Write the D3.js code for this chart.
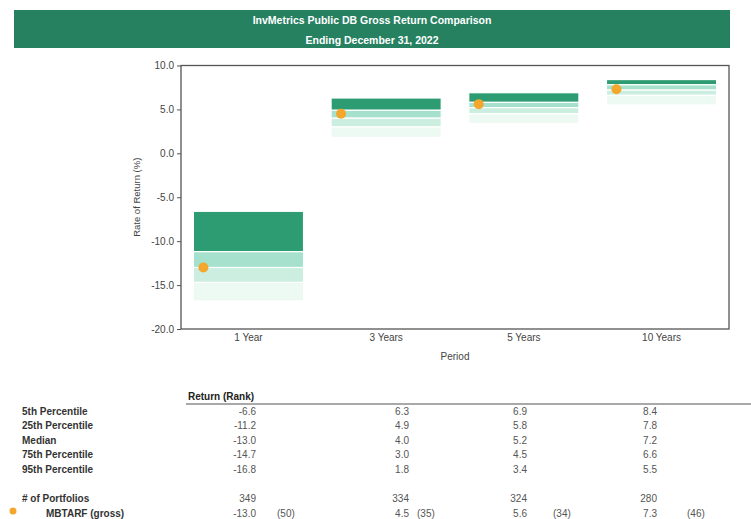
<!DOCTYPE html>
<html>
<head>
<meta charset="utf-8">
<script src="https://cdn.jsdelivr.net/npm/d3@7"></script>
<style>
  body { margin: 0; background: #fff; }
  svg { font-family: "Liberation Sans", Arial, sans-serif; }
</style>
</head>
<body>
<svg id="chart" width="751" height="519"></svg>
<script>
// DATA
var periods = ["1 Year", "3 Years", "5 Years", "10 Years"];
var pctLabels = ["5th Percentile", "25th Percentile", "Median", "75th Percentile", "95th Percentile"];
var p5  = [-6.6, 6.3, 6.9, 8.4];
var p25 = [-11.2, 4.9, 5.8, 7.8];
var p50 = [-13.0, 4.0, 5.2, 7.2];
var p75 = [-14.7, 3.0, 4.5, 6.6];
var p95 = [-16.8, 1.8, 3.4, 5.5];
var nPortfolios = [349, 334, 324, 280];
var fundName = "MBTARF (gross)";
var fundReturn = [-13.0, 4.5, 5.6, 7.3];
var fundRank = [50, 35, 34, 46];
var yTicks = [10, 5, 0, -5, -10, -15, -20];

// style
var bandColors = ["#2e9c73", "#a5e1cc", "#cbeee1", "#edf9f3"];
var dotColor = "#f3a72c";
var headerColor = "#268161";

function fmt1(d) { return d.toFixed(1); }   // keep plain hyphen minus like the original

var svg = d3.select("#chart");

// header bar
svg.append("rect")
  .attr("x", 14).attr("y", 10).attr("width", 716).attr("height", 38)
  .attr("fill", headerColor);
svg.append("text").attr("x", 372).attr("y", 23.5)
  .attr("text-anchor", "middle").attr("fill", "#fff")
  .style("font-weight", "bold").style("font-size", "10.5px")
  .text("InvMetrics Public DB Gross Return Comparison");
svg.append("text").attr("x", 372).attr("y", 43.5)
  .attr("text-anchor", "middle").attr("fill", "#fff")
  .style("font-weight", "bold").style("font-size", "10.5px")
  .text("Ending December 31, 2022");

// plot area
var pLeft = 181, pRight = 729, pTop = 65.5, pBottom = 329;

var x = d3.scaleBand().domain(periods).range([pLeft, pRight])
  .paddingInner(0.2).paddingOuter(0.09);
var y = d3.scaleLinear().domain([-20, 10]).range([pBottom, pTop]);

var g = svg.append("g");

// floating bars
periods.forEach(function(p, i) {
  var vals = [p5[i], p25[i], p50[i], p75[i], p95[i]];
  for (var j = 0; j < 4; j++) {
    g.append("rect")
      .attr("x", x(p))
      .attr("y", y(vals[j]))
      .attr("width", x.bandwidth())
      .attr("height", y(vals[j + 1]) - y(vals[j]))
      .attr("fill", bandColors[j])
      .attr("stroke", "#fff")
      .attr("stroke-width", 1.2);
  }
});

// fund dots
g.selectAll("circle.fund")
  .data(fundReturn)
  .enter()
  .append("circle")
  .attr("class", "fund")
  .attr("cx", function(d, i) { return x(periods[i]) + 10; })
  .attr("cy", function(d) { return y(d); })
  .attr("r", 5)
  .attr("fill", dotColor);

// frame
svg.append("rect")
  .attr("x", pLeft).attr("y", pTop)
  .attr("width", pRight - pLeft).attr("height", pBottom - pTop)
  .attr("fill", "none").attr("stroke", "#555").attr("stroke-width", 1.3);

// y axis
var yAxis = svg.append("g")
  .attr("transform", "translate(" + pLeft + ",0)")
  .call(d3.axisLeft(y).tickValues(yTicks).tickSize(4).tickFormat(fmt1));
yAxis.select(".domain").remove();
yAxis.selectAll("line").attr("stroke", "#555");
yAxis.selectAll("text").attr("fill", "#444").style("font-size", "10px")
  .style("font-family", "'Liberation Sans', Arial, sans-serif");

// x axis labels
var xAxis = svg.append("g")
  .attr("transform", "translate(0," + pBottom + ")")
  .call(d3.axisBottom(x).tickSize(0).tickPadding(5));
xAxis.select(".domain").remove();
xAxis.selectAll("text").attr("fill", "#444").style("font-size", "10px")
  .style("font-family", "'Liberation Sans', Arial, sans-serif");

// axis titles
svg.append("text")
  .attr("transform", "translate(140," + ((pTop + pBottom) / 2) + ") rotate(-90)")
  .attr("text-anchor", "middle").attr("fill", "#444").style("font-size", "9.5px")
  .text("Rate of Return (%)");
svg.append("text")
  .attr("x", (pLeft + pRight) / 2).attr("y", 360)
  .attr("text-anchor", "middle").attr("fill", "#444").style("font-size", "10px")
  .text("Period");

// table
var colRight = [256, 409, 527, 657];
var rankLeft = [277, 417, 553, 687];
var rowY = [411.5, 425.5, 440, 454, 469];

svg.append("text").attr("x", 188).attr("y", 400)
  .style("font-weight", "bold").style("font-size", "10px").attr("fill", "#222")
  .text("Return (Rank)");
svg.append("line").attr("x1", 186).attr("x2", 751).attr("y1", 404).attr("y2", 404)
  .attr("stroke", "#555").attr("stroke-width", 1.2);

var allPct = [p5, p25, p50, p75, p95];
pctLabels.forEach(function(lbl, r) {
  svg.append("text").attr("x", 22).attr("y", rowY[r]).attr("dy", "0.35em")
    .style("font-weight", "bold").style("font-size", "10px").attr("fill", "#333")
    .text(lbl);
  svg.selectAll(null).data(allPct[r]).enter().append("text")
    .attr("x", function(d, i) { return colRight[i]; })
    .attr("y", rowY[r]).attr("dy", "0.35em")
    .attr("text-anchor", "end").style("font-size", "10px").attr("fill", "#555")
    .text(fmt1);
});

svg.append("text").attr("x", 22).attr("y", 498.5).attr("dy", "0.35em")
  .style("font-weight", "bold").style("font-size", "10px").attr("fill", "#333")
  .text("# of Portfolios");
svg.selectAll(null).data(nPortfolios).enter().append("text")
  .attr("x", function(d, i) { return colRight[i]; })
  .attr("y", 498.5).attr("dy", "0.35em")
  .attr("text-anchor", "end").style("font-size", "10px").attr("fill", "#555")
  .text(function(d) { return d; });

svg.append("circle").attr("cx", 13).attr("cy", 511).attr("r", 3.5).attr("fill", dotColor);
svg.append("text").attr("x", 46).attr("y", 513.5).attr("dy", "0.35em")
  .style("font-weight", "bold").style("font-size", "10px").attr("fill", "#333")
  .text(fundName);
svg.selectAll(null).data(fundReturn).enter().append("text")
  .attr("x", function(d, i) { return colRight[i]; })
  .attr("y", 513.5).attr("dy", "0.35em")
  .attr("text-anchor", "end").style("font-size", "10px").attr("fill", "#555")
  .text(fmt1);
svg.selectAll(null).data(fundRank).enter().append("text")
  .attr("x", function(d, i) { return rankLeft[i]; })
  .attr("y", 513.5).attr("dy", "0.35em")
  .style("font-size", "10px").attr("fill", "#555")
  .text(function(d) { return "(" + d + ")"; });
</script>
</body>
</html>
